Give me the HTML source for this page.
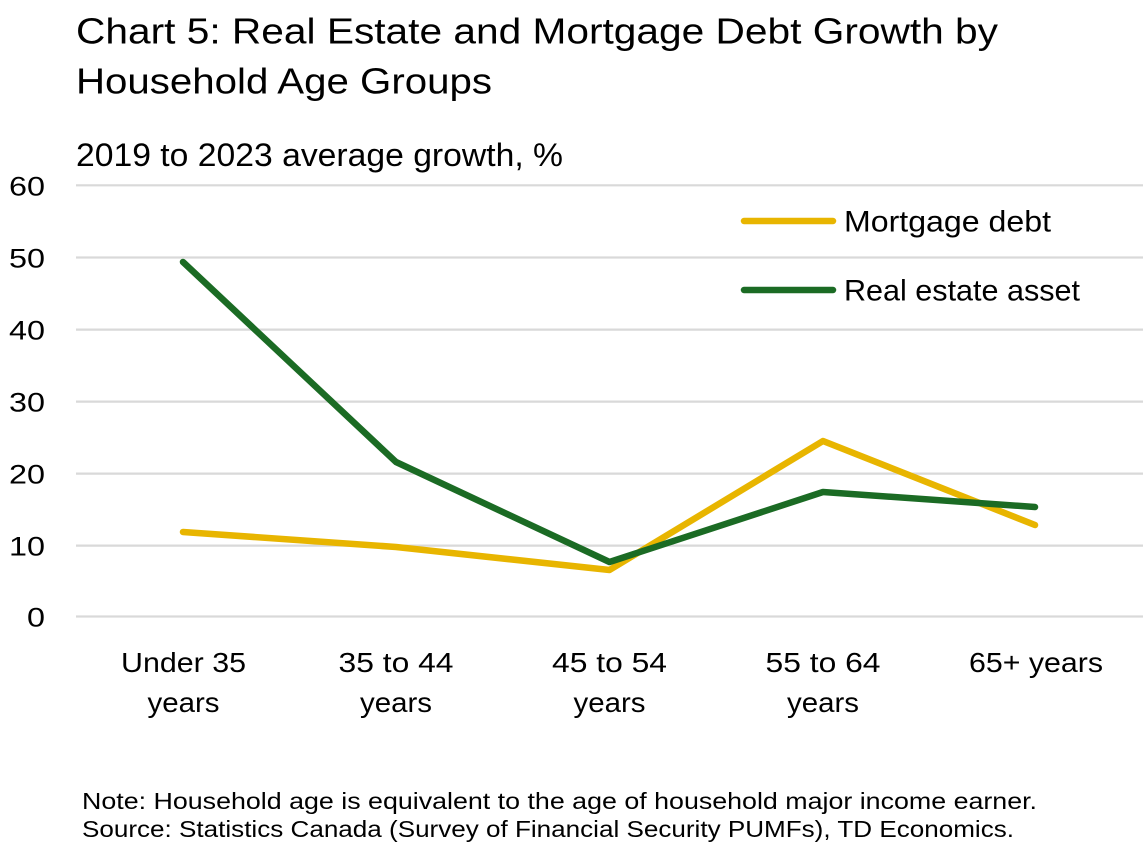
<!DOCTYPE html>
<html>
<head>
<meta charset="utf-8">
<style>
  html, body { margin: 0; padding: 0; background: #ffffff; }
  svg { display: block; }
  text { font-family: "Liberation Sans", "DejaVu Sans", sans-serif; fill: #000; }
</style>
</head>
<body>
<svg width="1143" height="850" viewBox="0 0 1143 850" xmlns="http://www.w3.org/2000/svg">
  <rect x="0" y="0" width="1143" height="850" fill="#ffffff"/>

  <!-- Title -->
  <text x="76" y="43.5" font-size="36" textLength="922" lengthAdjust="spacingAndGlyphs">Chart 5: Real Estate and Mortgage Debt Growth by</text>
  <text x="76" y="93.5" font-size="36" textLength="416" lengthAdjust="spacingAndGlyphs">Household Age Groups</text>

  <!-- Subtitle -->
  <text x="76" y="166" font-size="32" textLength="487" lengthAdjust="spacingAndGlyphs">2019 to 2023 average growth, %</text>

  <!-- Gridlines -->
  <g stroke="#d9d9d9" stroke-width="2.2">
    <line x1="76" y1="185.3" x2="1143" y2="185.3"/>
    <line x1="76" y1="257.5" x2="1143" y2="257.5"/>
    <line x1="76" y1="329.6" x2="1143" y2="329.6"/>
    <line x1="76" y1="401.6" x2="1143" y2="401.6"/>
    <line x1="76" y1="473.6" x2="1143" y2="473.6"/>
    <line x1="76" y1="545.6" x2="1143" y2="545.6"/>
    <line x1="76" y1="616.5" x2="1143" y2="616.5"/>
  </g>

  <!-- Y labels -->
  <g font-size="27" text-anchor="end">
    <text x="45" y="195.3" textLength="36" lengthAdjust="spacingAndGlyphs">60</text>
    <text x="45" y="267.5" textLength="36" lengthAdjust="spacingAndGlyphs">50</text>
    <text x="45" y="339.6" textLength="36" lengthAdjust="spacingAndGlyphs">40</text>
    <text x="45" y="411.6" textLength="36" lengthAdjust="spacingAndGlyphs">30</text>
    <text x="45" y="483.6" textLength="36" lengthAdjust="spacingAndGlyphs">20</text>
    <text x="45" y="555.6" textLength="36" lengthAdjust="spacingAndGlyphs">10</text>
    <text x="45" y="626.5" textLength="18" lengthAdjust="spacingAndGlyphs">0</text>
  </g>

  <!-- X labels -->
  <g font-size="28" text-anchor="middle">
    <text x="183.5" y="672" textLength="125" lengthAdjust="spacingAndGlyphs">Under 35</text>
    <text x="183.5" y="712" textLength="72" lengthAdjust="spacingAndGlyphs">years</text>
    <text x="396" y="672" textLength="115" lengthAdjust="spacingAndGlyphs">35 to 44</text>
    <text x="396" y="712" textLength="72" lengthAdjust="spacingAndGlyphs">years</text>
    <text x="609.5" y="672" textLength="115" lengthAdjust="spacingAndGlyphs">45 to 54</text>
    <text x="609.5" y="712" textLength="72" lengthAdjust="spacingAndGlyphs">years</text>
    <text x="823" y="672" textLength="115" lengthAdjust="spacingAndGlyphs">55 to 64</text>
    <text x="823" y="712" textLength="72" lengthAdjust="spacingAndGlyphs">years</text>
    <text x="1036" y="672" textLength="134" lengthAdjust="spacingAndGlyphs">65+ years</text>
  </g>

  <!-- Series: Mortgage debt (yellow) -->
  <polyline points="183,532 396,547 609.5,570 823,441 1035,525"
            fill="none" stroke="#e8b500" stroke-width="6.5" stroke-linecap="round" stroke-linejoin="round"/>
  <!-- Series: Real estate asset (green) -->
  <polyline points="183,262 396,462 609.5,562 823,492 1035,507"
            fill="none" stroke="#1b6b24" stroke-width="6.5" stroke-linecap="round" stroke-linejoin="round"/>

  <!-- Legend -->
  <line x1="744" y1="221" x2="833" y2="221" stroke="#e8b500" stroke-width="6.5" stroke-linecap="round"/>
  <text x="844" y="231.5" font-size="30" textLength="207" lengthAdjust="spacingAndGlyphs">Mortgage debt</text>
  <line x1="744" y1="290" x2="833" y2="290" stroke="#1b6b24" stroke-width="6.5" stroke-linecap="round"/>
  <text x="844" y="300.5" font-size="30" textLength="236" lengthAdjust="spacingAndGlyphs">Real estate asset</text>

  <!-- Footnotes -->
  <text x="82" y="809" font-size="23.5" textLength="955" lengthAdjust="spacingAndGlyphs">Note: Household age is equivalent to the age of household major income earner.</text>
  <text x="82" y="837" font-size="23.5" textLength="932" lengthAdjust="spacingAndGlyphs">Source: Statistics Canada (Survey of Financial Security PUMFs), TD Economics.</text>
</svg>
</body>
</html>
